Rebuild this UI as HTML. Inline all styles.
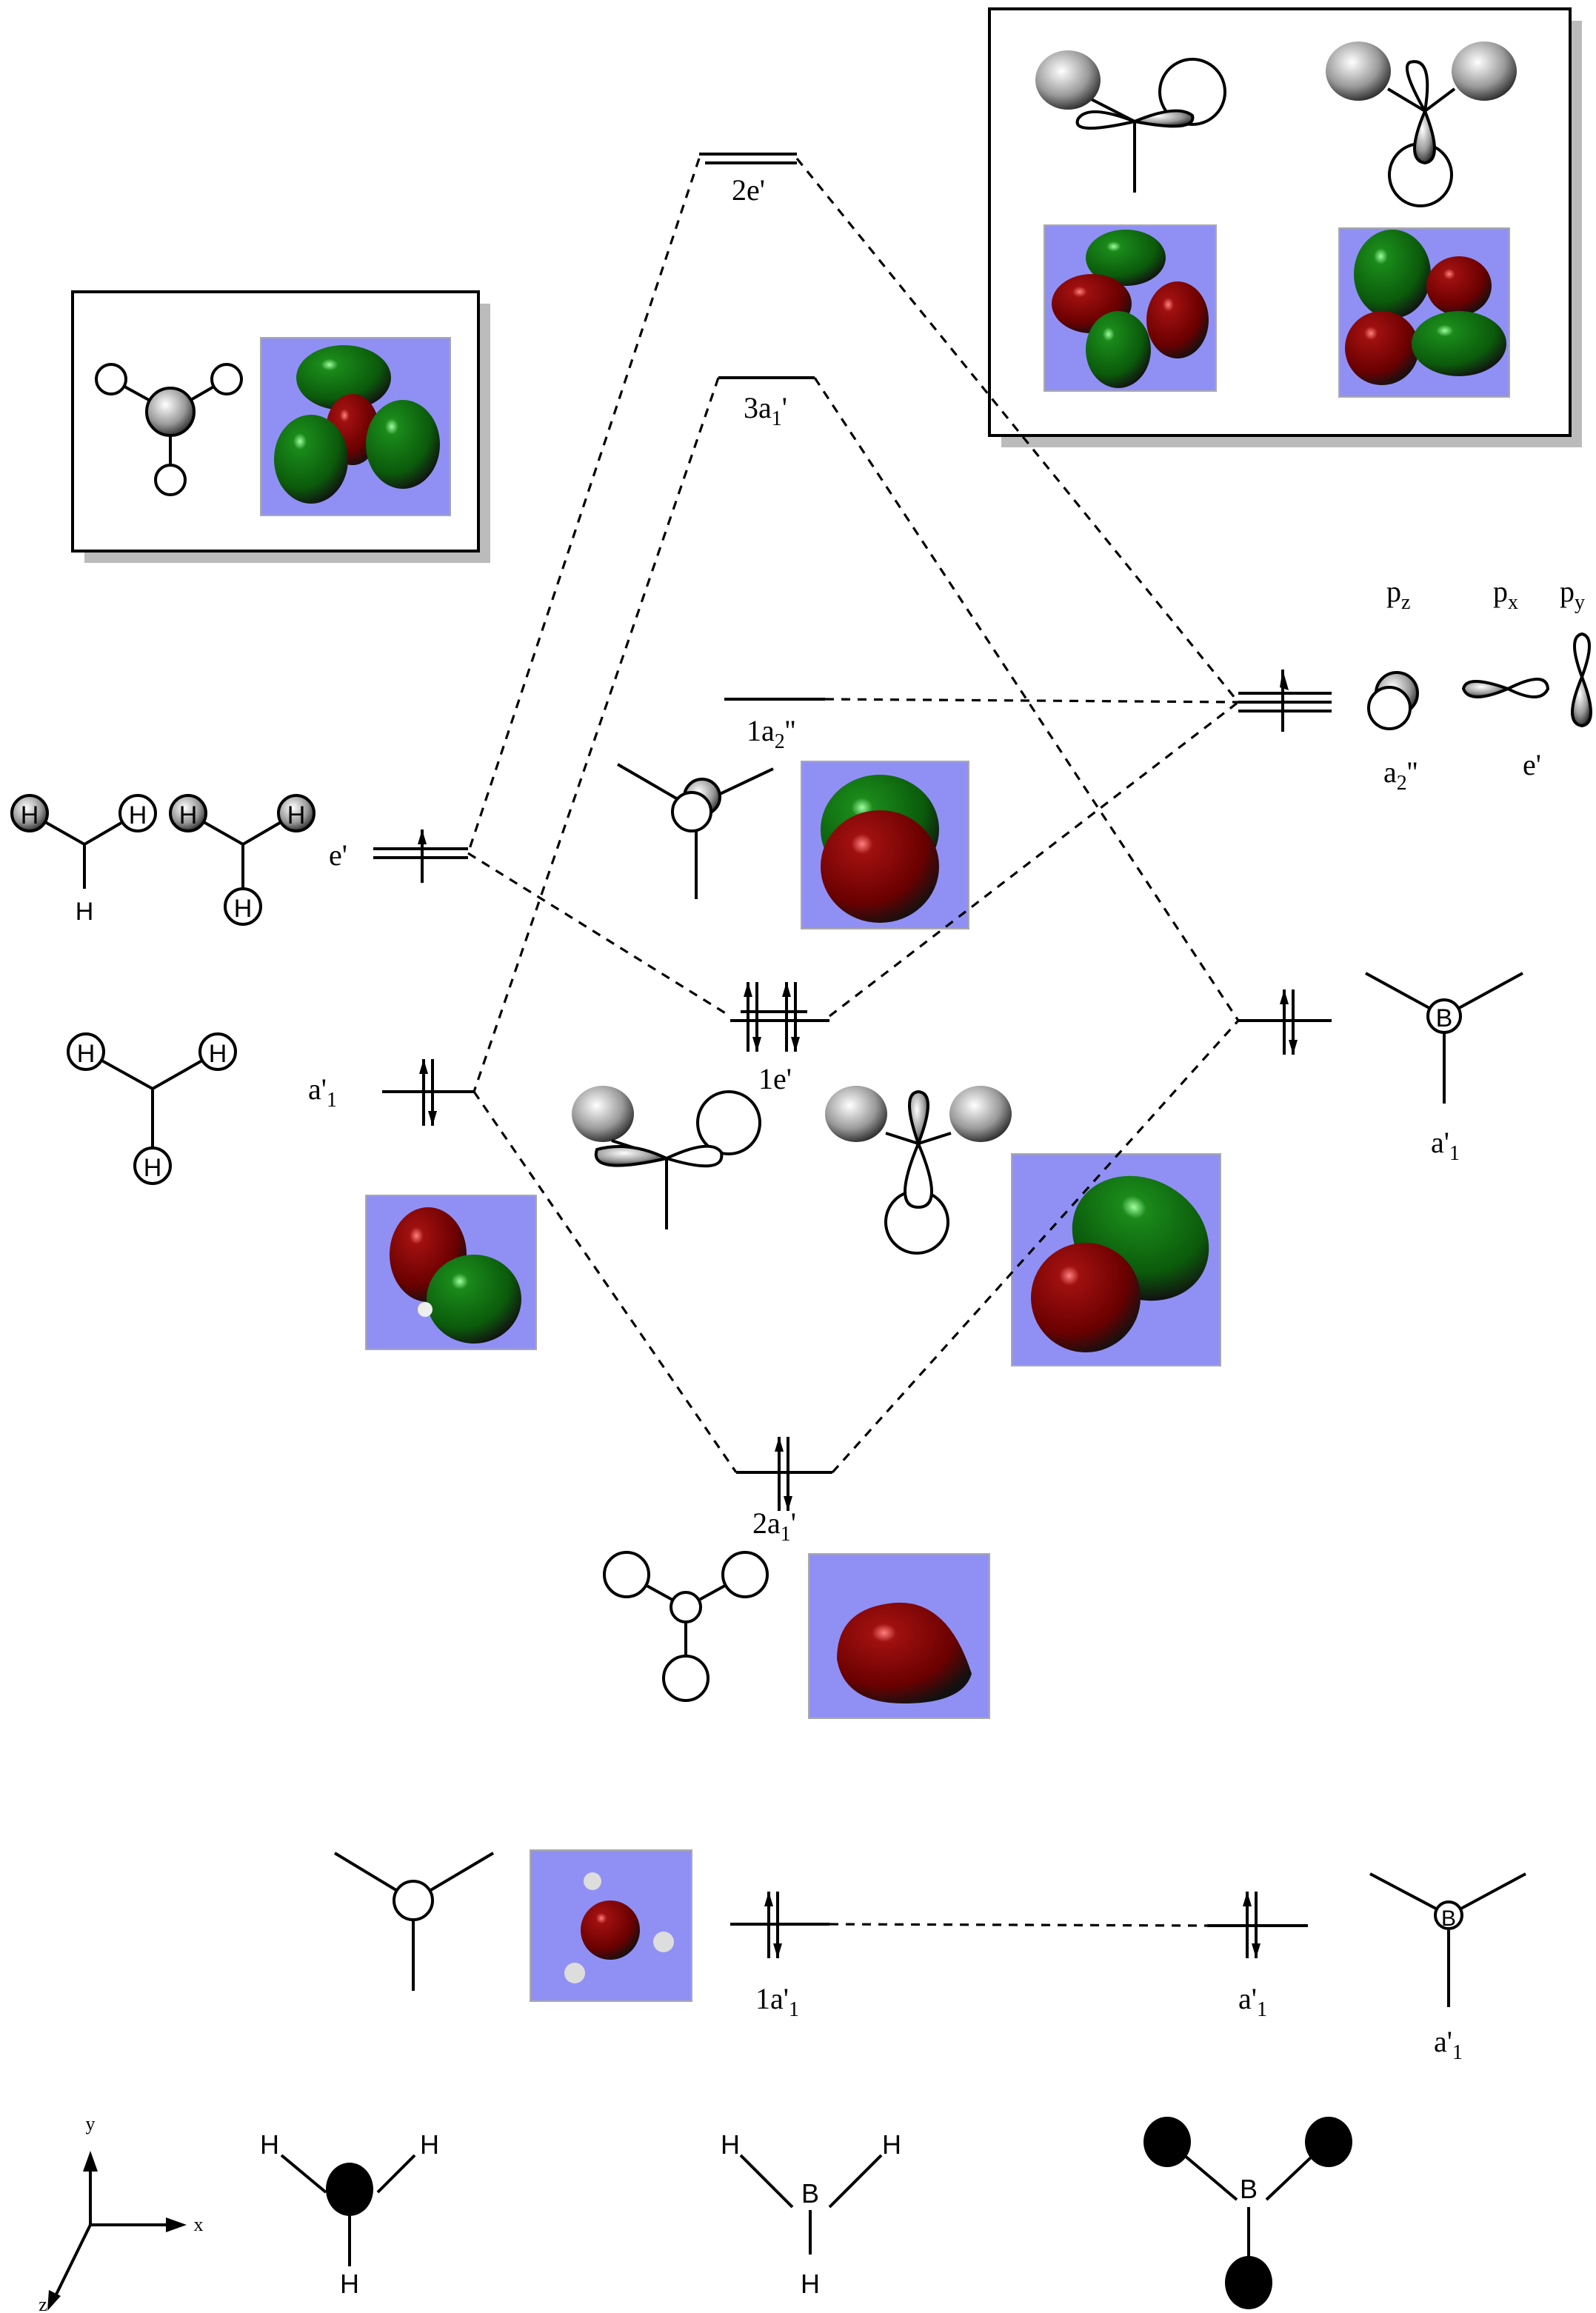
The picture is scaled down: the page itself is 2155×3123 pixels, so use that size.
<!DOCTYPE html>
<html><head><meta charset="utf-8"><style>html,body{margin:0;padding:0;background:#fff}svg{display:block}</style></head>
<body>
<svg width="2155" height="3123" viewBox="0 0 1077.5 1561.5" xmlns="http://www.w3.org/2000/svg" font-family="Liberation Serif, serif">
<defs>
<radialGradient id="gs" cx="0.4" cy="0.35" r="0.7"><stop offset="0" stop-color="#fff"/><stop offset="0.6" stop-color="#999"/><stop offset="1" stop-color="#222"/></radialGradient>
<radialGradient id="rd" cx="0.35" cy="0.3" r="0.75"><stop offset="0" stop-color="#ff8080"/><stop offset="0.12" stop-color="#a01010"/><stop offset="0.7" stop-color="#6a0000"/><stop offset="1" stop-color="#111"/></radialGradient>
<radialGradient id="gr" cx="0.35" cy="0.3" r="0.75"><stop offset="0" stop-color="#a0ffa0"/><stop offset="0.12" stop-color="#1a8a1a"/><stop offset="0.7" stop-color="#0b5a0b"/><stop offset="1" stop-color="#111"/></radialGradient>
</defs>
<g stroke="#000" fill="none" stroke-width="2">
<!-- boxes -->
<rect x="676" y="14" width="392" height="288" fill="#bbb" stroke="none"/>
<rect x="668" y="6" width="392" height="288" fill="#fff"/>
<rect x="57" y="205" width="274" height="175" fill="#bbb" stroke="none"/>
<rect x="49" y="197" width="274" height="175" fill="#fff"/>
</g>
<!-- blue panels -->
<g fill="#9090f4" stroke="#aaa">
<rect x="176" y="228" width="128" height="120"/>
<rect x="705" y="152" width="116" height="112"/>
<rect x="904" y="154" width="115" height="114"/>
<rect x="541" y="514" width="113" height="113"/>
<rect x="247" y="807" width="115" height="104"/>
<rect x="683" y="779" width="141" height="143"/>
<rect x="546" y="1049" width="122" height="111"/>
<rect x="358" y="1249" width="109" height="102"/>
</g>
<!-- blobs -->
<g stroke="none">
<ellipse cx="232" cy="255" rx="32" ry="22" fill="url(#gr)"/>
<ellipse cx="238" cy="290" rx="18" ry="24" fill="url(#rd)"/>
<ellipse cx="210" cy="310" rx="25" ry="30" fill="url(#gr)"/>
<ellipse cx="272" cy="300" rx="25" ry="30" fill="url(#gr)"/>
<ellipse cx="760" cy="174" rx="27" ry="19" fill="url(#gr)"/>
<ellipse cx="737" cy="205" rx="27" ry="20" fill="url(#rd)"/>
<ellipse cx="795" cy="216" rx="21" ry="26" fill="url(#rd)"/>
<ellipse cx="755" cy="236" rx="22" ry="26" fill="url(#gr)"/>
<ellipse cx="940" cy="185" rx="26" ry="30" fill="url(#gr)"/>
<ellipse cx="985" cy="193" rx="22" ry="20" fill="url(#rd)"/>
<ellipse cx="933" cy="235" rx="25" ry="25" fill="url(#rd)"/>
<ellipse cx="985" cy="232" rx="32" ry="22" fill="url(#gr)"/>
<ellipse cx="594" cy="560" rx="40" ry="37" fill="url(#gr)"/>
<ellipse cx="594" cy="585" rx="40" ry="38" fill="url(#rd)"/>
<ellipse cx="289" cy="847" rx="26" ry="32" fill="url(#rd)"/>
<ellipse cx="320" cy="877" rx="32" ry="30" fill="url(#gr)"/>
<circle cx="287" cy="884" r="5" fill="#eee"/>
<ellipse cx="770" cy="836" rx="48" ry="40" fill="url(#gr)" transform="rotate(30 770 836)"/>
<ellipse cx="733" cy="876" rx="37" ry="37" fill="url(#rd)"/>
<path d="M605 1082 Q640 1080 656 1130 Q650 1150 610 1150 Q570 1150 565 1120 Q565 1085 605 1082Z" fill="url(#rd)"/>
<circle cx="412" cy="1303" r="20" fill="url(#rd)"/>
<circle cx="400" cy="1270" r="6" fill="#ddd"/><circle cx="448" cy="1311" r="7" fill="#ddd"/><circle cx="388" cy="1332" r="7" fill="#ddd"/>
</g>
<!-- dashed connectors -->
<g stroke="#000" stroke-width="1.6" stroke-dasharray="6,5" fill="none">
<path d="M538 107 L836 474"/><path d="M472 107 L316 576"/>
<path d="M550 255 L836 689"/><path d="M485 255 L320 737"/>
<path d="M557 472 L836 474"/><path d="M316 576 L493 686"/>
<path d="M560 686 L836 474"/><path d="M320 737 L497 994"/>
<path d="M562 994 L836 689"/><path d="M560 1299 L815 1300"/>
</g>
<!-- levels -->
<g stroke="#000" stroke-width="2" fill="none">
<path d="M472 104H538M476 110H538"/>
<path d="M485 255H550"/>
<path d="M489 472H557"/>
<path d="M252 573H316M252 579H316M285 560V596"/>
<path d="M258 737H320M286 715V760M292 715V760"/>
<path d="M493 689H560M500 683H545M505 663V710M511 663V710M531 663V710M537 663V710"/>
<path d="M497 994H562M526 970V1020M532 970V1020"/>
<path d="M836 468H899M836 474H899M836 480H899M866 452V494"/>
<path d="M836 689H899M867 668V712M873 668V712"/>
<path d="M493 1299H560M519 1277V1322M525 1277V1322"/>
<path d="M815 1300H883M842 1277V1322M848 1277V1322"/>
</g>
<!-- arrowheads -->
<g fill="#000">
<path d="M285 560l-3 10h6z"/><path d="M866 452l-2 12 6 2z"/>
<path d="M286 715l-3 10h6z"/><path d="M292 760l-3-10h6z"/>
<path d="M505 663l-3 10h6z"/><path d="M511 710l-3-10h6z"/><path d="M531 663l-3 10h6z"/><path d="M537 710l-3-10h6z"/>
<path d="M526 970l-3 10h6z"/><path d="M532 1020l-3-10h6z"/>
<path d="M867 668l-3 10h6z"/><path d="M873 712l-3-10h6z"/>
<path d="M519 1277l-3 10h6z"/><path d="M525 1322l-3-10h6z"/>
<path d="M842 1277l-3 10h6z"/><path d="M848 1322l-3-10h6z"/>
</g>
<!-- labels -->
<g font-size="20" fill="#000">
<text x="494" y="135">2e'</text>
<text x="502" y="282">3a<tspan font-size="14" dy="5">1</tspan><tspan dy="-5">'</tspan></text>
<text x="504" y="500">1a<tspan font-size="14" dy="5">2</tspan><tspan dy="-5">''</tspan></text>
<text x="222" y="584">e'</text>
<text x="208" y="742">a'<tspan font-size="14" dy="5">1</tspan></text>
<text x="512" y="735">1e'</text>
<text x="508" y="1035">2a<tspan font-size="14" dy="5">1</tspan><tspan dy="-5">'</tspan></text>
<text x="510" y="1356">1a'<tspan font-size="14" dy="5">1</tspan></text>
<text x="836" y="1356">a'<tspan font-size="14" dy="5">1</tspan></text>
<text x="968" y="1385">a'<tspan font-size="14" dy="5">1</tspan></text>
<text x="966" y="778">a'<tspan font-size="14" dy="5">1</tspan></text>
<text x="936" y="406">p<tspan font-size="14" dy="5">z</tspan></text>
<text x="1008" y="406">p<tspan font-size="14" dy="5">x</tspan></text>
<text x="1053" y="406">p<tspan font-size="14" dy="5">y</tspan></text>
<text x="934" y="528">a<tspan font-size="14" dy="5">2</tspan><tspan dy="-5">''</tspan></text>
<text x="1028" y="523">e'</text>
</g>
<!-- molecule drawings -->
<g stroke="#000" stroke-width="2" fill="none">
<!-- left box BH3 -->
<path d="M75 256L115 278L153 256M115 278V322"/>
<circle cx="75" cy="256" r="10" fill="#fff"/><circle cx="153" cy="256" r="10" fill="#fff"/><circle cx="115" cy="324" r="10" fill="#fff"/>
<circle cx="115" cy="278" r="16" fill="url(#gs)"/>
<!-- top box e' -->
<path d="M727 62L766 82L766 130"/>
<ellipse cx="721" cy="54" rx="22" ry="20" fill="url(#gs)" stroke="none"/>
<circle cx="805" cy="62" r="22" fill="#fff"/>
<path d="M766 82Q735 70 728 80Q722 92 766 82Z" fill="#fff"/>
<path d="M766 82Q795 70 805 78Q808 90 766 82Z" fill="url(#gs)"/>
<ellipse cx="917" cy="48" rx="22" ry="20" fill="url(#gs)" stroke="none"/>
<ellipse cx="1002" cy="48" rx="22" ry="20" fill="url(#gs)" stroke="none"/>
<path d="M937 60L962 75L982 60"/>
<circle cx="959" cy="118" r="21" fill="#fff"/>
<path d="M962 75Q945 45 952 42Q968 38 962 75Z" fill="#fff"/>
<path d="M962 75Q975 108 962 110Q948 108 962 75Z" fill="url(#gs)"/>
<!-- left H groups -->
<path d="M20 549L57 570L93 549M57 570V600"/>
<circle cx="20" cy="549" r="12" fill="url(#gs)"/><circle cx="93" cy="549" r="12" fill="#fff"/>
<path d="M127 549L164 570L200 549M164 570V600"/>
<circle cx="127" cy="549" r="12" fill="url(#gs)"/><circle cx="200" cy="549" r="12" fill="url(#gs)"/><circle cx="164" cy="612" r="12" fill="#fff"/>
<path d="M58 710L103 735L147 710M103 735V780"/>
<circle cx="58" cy="710" r="12" fill="#fff"/><circle cx="147" cy="710" r="12" fill="#fff"/><circle cx="103" cy="787" r="12" fill="#fff"/>
<!-- 1a2'' drawing -->
<path d="M417 516L467 545L522 519M470 545V607"/>
<circle cx="474" cy="538" r="12" fill="url(#gs)"/>
<circle cx="467" cy="548" r="13" fill="#fff"/>
<!-- 1e' drawings -->
<ellipse cx="407" cy="752" rx="21" ry="19" fill="url(#gs)" stroke="none"/>
<circle cx="492" cy="758" r="21" fill="#fff"/>
<path d="M413 770L450 782V830"/>
<path d="M450 782Q425 770 403 776Q397 794 450 782Z" fill="url(#gs)"/>
<path d="M450 782Q480 768 487 778Q490 794 450 782Z" fill="#fff"/>
<ellipse cx="578" cy="752" rx="21" ry="19" fill="url(#gs)" stroke="none"/>
<ellipse cx="662" cy="752" rx="21" ry="19" fill="url(#gs)" stroke="none"/>
<path d="M598 765L620 772L642 765"/>
<circle cx="619" cy="825" r="21" fill="#fff"/>
<path d="M620 772Q608 738 620 737Q633 738 620 772Z" fill="url(#gs)"/>
<path d="M620 772Q602 815 620 815Q638 815 620 772Z" fill="#fff"/>
<!-- right orbitals -->
<circle cx="943" cy="468" r="14" fill="url(#gs)"/>
<circle cx="938" cy="478" r="14" fill="#fff"/>
<path d="M1018 465Q990 455 988 465Q992 476 1018 465Z" fill="url(#gs)"/>
<path d="M1018 465Q1044 452 1045 465Q1040 476 1018 465Z" fill="#fff"/>
<path d="M1068 457Q1058 430 1068 428Q1078 430 1068 457Z" fill="#fff"/>
<path d="M1068 457Q1055 488 1068 490Q1080 488 1068 457Z" fill="url(#gs)"/>
<!-- right B a'1 -->
<path d="M922 657L975 686L1028 657M975 696V745"/>
<circle cx="975" cy="686" r="11" fill="#fff"/>
<!-- 2a1' -->
<path d="M423 1063L463 1085L503 1063M463 1085V1132"/>
<circle cx="423" cy="1063" r="15" fill="#fff"/><circle cx="503" cy="1063" r="15" fill="#fff"/><circle cx="463" cy="1133" r="15" fill="#fff"/><circle cx="463" cy="1085" r="10" fill="#fff"/>
<!-- 1a'1 left -->
<path d="M226 1251L279 1283L333 1251M279 1296V1344"/>
<circle cx="279" cy="1283" r="13" fill="#fff"/>
<!-- right B -->
<path d="M925 1265L978 1293L1030 1265M978 1303V1355"/>
<circle cx="978" cy="1293" r="9" fill="#fff"/>
<!-- axes -->
<path d="M61 1502V1460M61 1502H118M61 1502L35 1555"/>
<!-- bottom molecules -->
<path d="M190 1455L220 1480M255 1480L280 1455M236 1495V1530"/>
<path d="M500 1455L535 1490M560 1490L595 1455M547 1492V1522"/>
<path d="M790 1447L835 1485M855 1485L895 1447M843 1490V1535"/>
</g>
<g fill="#000">
<path d="M61 1452l-5 14h10z"/><path d="M126 1502l-14-5v10z"/><path d="M32 1560l1-14 8 4z"/>
<ellipse cx="236" cy="1478" rx="16" ry="18"/>
<ellipse cx="788" cy="1446" rx="16" ry="17"/><ellipse cx="897" cy="1446" rx="16" ry="17"/><ellipse cx="843" cy="1541" rx="16" ry="18"/>
</g>
<g font-family="Liberation Sans, sans-serif" font-size="18" fill="#000" text-anchor="middle">
<text x="20" y="556" font-size="17">H</text><text x="93" y="556" font-size="17">H</text><text x="57" y="621" font-size="17">H</text>
<text x="127" y="556" font-size="17">H</text><text x="200" y="556" font-size="17">H</text><text x="164" y="619" font-size="17">H</text>
<text x="58" y="717" font-size="17">H</text><text x="147" y="717" font-size="17">H</text><text x="103" y="794" font-size="17">H</text>
<text x="975" y="693" font-size="17">B</text><text x="978" y="1300" font-size="15">B</text>
<text x="182" y="1454">H</text><text x="290" y="1454">H</text><text x="236" y="1548">H</text>
<text x="493" y="1454">H</text><text x="602" y="1454">H</text><text x="547" y="1487">B</text><text x="547" y="1548">H</text>
<text x="843" y="1484">B</text>
</g>
<g font-size="13" fill="#000" text-anchor="middle">
<text x="61" y="1438">y</text><text x="134" y="1506">x</text><text x="29" y="1560">z</text>
</g>
</svg>
</body></html>
